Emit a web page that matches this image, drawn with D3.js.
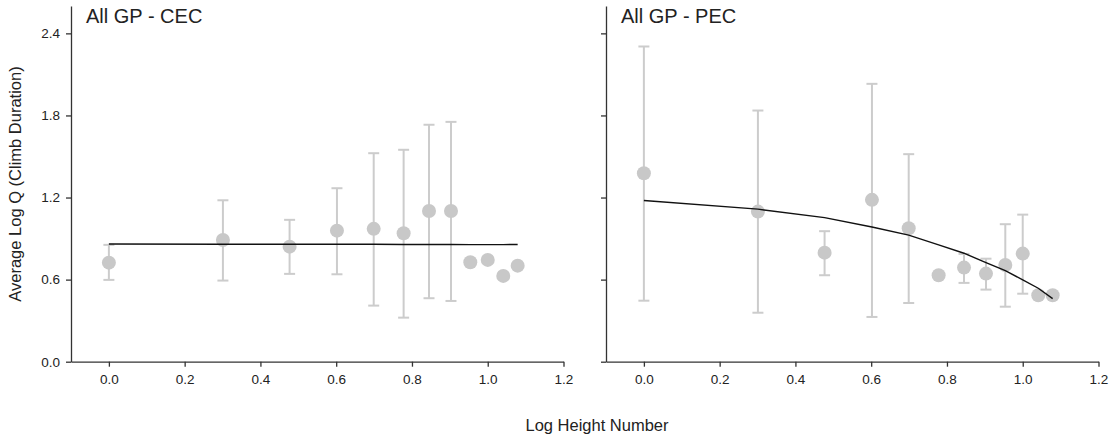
<!DOCTYPE html>
<html>
<head>
<meta charset="utf-8">
<script src="https://cdn.jsdelivr.net/npm/d3@7"></script>
<style>
  body { margin: 0; background: #fff; }
  svg text { font-family: "Liberation Sans", Arial, sans-serif; fill: #222; }
</style>
</head>
<body>
<script>
// log10 of height number 1..12
var logHeight = [0, 0.301, 0.477, 0.602, 0.699, 0.778, 0.845, 0.903, 0.954, 1.0, 1.041, 1.079];

// CEC panel
var cecMean  = [0.724, 0.890, 0.841, 0.958, 0.971, 0.939, 1.102, 1.102, 0.727, 0.744, 0.627, 0.702];
var cecLow   = [0.598, 0.593, 0.642, 0.639, 0.410, 0.322, 0.464, 0.444, null, null, null, null];
var cecHigh  = [0.854, 1.180, 1.037, 1.268, 1.524, 1.549, 1.732, 1.753, null, null, null, null];
var cecFit   = [0.860, 0.859, 0.859, 0.858, 0.858, 0.857, 0.857, 0.857, 0.856, 0.856, 0.856, 0.857];

// PEC panel
var pecMean  = [1.378, 1.097, 0.797, 1.183, 0.976, 0.632, 0.688, 0.644, 0.707, 0.790, 0.486, 0.486];
var pecLow   = [0.446, 0.358, 0.632, 0.327, 0.429, 0.612, 0.576, 0.527, 0.402, 0.497, null, null];
var pecHigh  = [2.304, 1.836, 0.954, 2.031, 1.517, 0.652, 0.788, 0.753, 1.005, 1.075, null, null];
var pecFit   = [1.178, 1.115, 1.053, 0.985, 0.925, 0.854, 0.793, 0.724, 0.666, 0.598, 0.537, 0.461];

var panelTitles = ["All GP - CEC", "All GP - PEC"];
var xTicks = [0, 0.2, 0.4, 0.6, 0.8, 1.0, 1.2];
var yTicks = [0, 0.6, 1.2, 1.8, 2.4];

var breedte = 1119, hoogte = 437;
var svg = d3.select("body").append("svg")
    .attr("width", breedte)
    .attr("height", hoogte);

var panels = [
  {links: 71, mean: cecMean, low: cecLow, high: cecHigh, fit: cecFit, title: panelTitles[0], labels: true},
  {links: 606, mean: pecMean, low: pecLow, high: pecHigh, fit: pecFit, title: panelTitles[1], labels: false}
];

var y = d3.scaleLinear().domain([0, 2.6]).range([361.7, 6]);

panels.forEach(function(p) {
  var x = d3.scaleLinear().domain([-0.1, 1.2]).range([p.links, p.links + 492.5]);
  var g = svg.append("g");

  // error bars
  var rows = logHeight.map(function(d, i) {
    return {x: d, m: p.mean[i], lo: p.low[i], hi: p.high[i], f: p.fit[i]};
  });
  var eb = rows.filter(function(d) { return d.lo != null; });

  g.selectAll(".err").data(eb).enter().append("line")
    .attr("x1", function(d) { return x(d.x); })
    .attr("x2", function(d) { return x(d.x); })
    .attr("y1", function(d) { return y(d.lo); })
    .attr("y2", function(d) { return y(d.hi); })
    .attr("stroke", "#cccccc").attr("stroke-width", 2);

  ["lo", "hi"].forEach(function(k) {
    g.selectAll(".cap" + k).data(eb).enter().append("line")
      .attr("x1", function(d) { return x(d.x) - 5.5; })
      .attr("x2", function(d) { return x(d.x) + 5.5; })
      .attr("y1", function(d) { return y(d[k]); })
      .attr("y2", function(d) { return y(d[k]); })
      .attr("stroke", "#cccccc").attr("stroke-width", 2);
  });

  // dots
  g.selectAll("circle").data(rows).enter().append("circle")
    .attr("cx", function(d) { return x(d.x); })
    .attr("cy", function(d) { return y(d.m); })
    .attr("r", 7)
    .attr("fill", "#c8c8c8");

  // fit line
  var lijn = d3.line()
    .x(function(d) { return x(d.x); })
    .y(function(d) { return y(d.f); });
  g.append("path").datum(rows)
    .attr("d", lijn)
    .attr("fill", "none")
    .attr("stroke", "#111")
    .attr("stroke-width", 1.4);

  // x-as
  var asX = g.append("g")
    .attr("transform", "translate(0," + y(0) + ")")
    .call(d3.axisBottom(x).tickValues(xTicks).tickFormat(d3.format(".1f")).tickSize(5).tickPadding(8).tickSizeOuter(0));
  asX.select(".domain").attr("stroke", "#333").attr("stroke-width", 1.3);
  asX.selectAll(".tick line").attr("stroke", "#333").attr("stroke-width", 1.3);
  asX.selectAll("text").attr("font-size", "13.5px").attr("fill", "#333")
     .style("font-family", "'Liberation Sans', Arial, sans-serif");

  // y-as
  var asY = g.append("g")
    .attr("transform", "translate(" + p.links + ",0)")
    .call(d3.axisLeft(y).tickValues(yTicks).tickFormat(p.labels ? d3.format(".1f") : "").tickSize(5).tickPadding(6).tickSizeOuter(0));
  asY.select(".domain").attr("stroke", "#333").attr("stroke-width", 1.3);
  asY.selectAll(".tick line").attr("stroke", "#333").attr("stroke-width", 1.3);
  asY.selectAll("text").attr("font-size", "13.5px").attr("fill", "#333")
     .style("font-family", "'Liberation Sans', Arial, sans-serif");

  // titel
  g.append("text")
    .attr("x", p.links + 15)
    .attr("y", 23)
    .attr("font-size", "20px")
    .text(p.title);
});

// as titels
svg.append("text")
  .attr("x", 597)
  .attr("y", 431)
  .attr("text-anchor", "middle")
  .attr("font-size", "16.5px")
  .text("Log Height Number");

svg.append("text")
  .attr("transform", "translate(21,184) rotate(-90)")
  .attr("text-anchor", "middle")
  .attr("font-size", "16.5px")
  .text("Average Log Q (Climb Duration)");
</script>
</body>
</html>
